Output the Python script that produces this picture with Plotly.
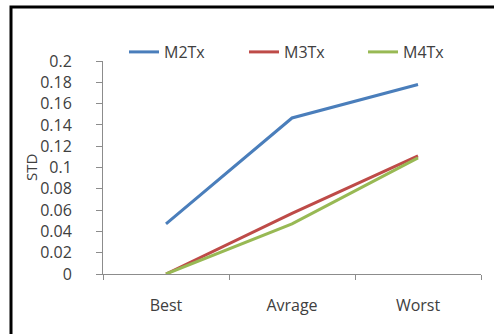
import plotly.graph_objects as go

# Scenario categories and standard deviation per transmitter model
categories = ["Best", "Avrage", "Worst"]
m2tx = [0.047, 0.1465, 0.178]
m3tx = [0.0, 0.057, 0.111]
m4tx = [0.0, 0.047, 0.109]

y_ticks = [0, 0.02, 0.04, 0.06, 0.08, 0.1, 0.12, 0.14, 0.16, 0.18, 0.2]
y_tick_labels = ["0", "0.02", "0.04", "0.06", "0.08", "0.1", "0.12", "0.14", "0.16", "0.18", "0.2"]

series = [
    ("M2Tx", m2tx, "#4A7EBB"),
    ("M3Tx", m3tx, "#BE4B48"),
    ("M4Tx", m4tx, "#98B954"),
]

FONT = "Open Sans, Liberation Sans, sans-serif"
TEXT = "#404040"
AXIS = "#8C8C8C"

W, H = 494, 334
ML, MR, MT, MB = 103, 13, 61, 60
pw, ph = W - ML - MR, H - MT - MB

# one legend box per series so each entry sits at its own spot in the top row
legend_left_px = [124, 244, 363]
legend_ids = ["legend", "legend2", "legend3"]

fig = go.Figure()
for (name, vals, color), lid in zip(series, legend_ids):
    fig.add_trace(go.Scatter(
        x=categories, y=vals, name=name, mode="lines",
        line=dict(color=color, width=3), legend=lid,
    ))

legend_layout = {}
for lid, left in zip(legend_ids, legend_left_px):
    legend_layout[lid] = dict(
        orientation="h", x=(left - ML) / pw, xanchor="left",
        y=1 + (MT - 52) / ph, yanchor="middle",
        font=dict(size=16, color=TEXT), itemwidth=30,
        bgcolor="rgba(0,0,0,0)",
    )

fig.update_layout(
    width=W, height=H,
    margin=dict(l=ML, r=MR, t=MT, b=MB),
    paper_bgcolor="white", plot_bgcolor="white",
    font=dict(family=FONT, color=TEXT, size=16),
    showlegend=True,
    **legend_layout,
    xaxis=dict(
        type="category", tickson="boundaries", range=[-0.5, 2.5],
        showline=True, linecolor=AXIS, linewidth=1,
        ticks="outside", ticklen=5, tickcolor=AXIS,
        showgrid=False, zeroline=False,
        tickfont=dict(size=16, color=TEXT),
        ticklabelstandoff=17,
    ),
    yaxis=dict(
        range=[0, 0.2], tickvals=y_ticks, ticktext=y_tick_labels,
        showline=True, linecolor=AXIS, linewidth=1,
        ticks="outside", ticklen=6, tickcolor=AXIS,
        showgrid=False, zeroline=False,
        tickfont=dict(size=16, color=TEXT),
        ticklabelstandoff=21,
    ),
    annotations=[dict(
        text="STD", textangle=-90, showarrow=False,
        xref="paper", yref="paper",
        x=(31 - ML) / pw, y=(H - MB - 168) / ph,
        xanchor="center", yanchor="middle",
        font=dict(size=15, color=TEXT, family=FONT),
    )],
    shapes=[dict(
        type="rect", xref="paper", yref="paper",
        x0=(11 - ML) / pw, x1=(W + 20 - ML) / pw,
        y0=-(MB + 20) / ph, y1=1 + (MT - 7) / ph,
        line=dict(color="black", width=3), layer="above",
    )],
)

fig.write_html("out.html")
